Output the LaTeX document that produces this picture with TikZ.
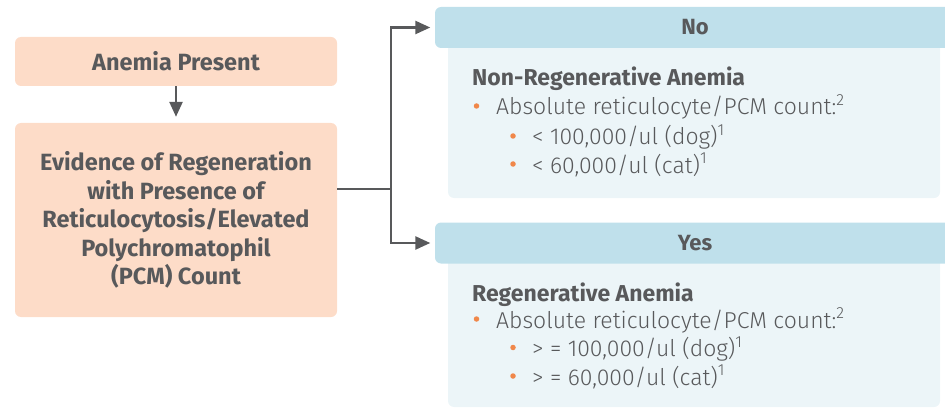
\documentclass[tikz,border=0pt]{standalone}
\usepackage{fontspec}
\setmainfont{Fira Sans}
\newfontfamily\lightfont{Fira Sans Light}
\usetikzlibrary{arrows.meta}
\definecolor{txtgray}{HTML}{58595B}
\definecolor{peach}{HTML}{FDDCC8}
\definecolor{headblue}{HTML}{BFE0EB}
\definecolor{bodyblue}{HTML}{ECF5F8}
\definecolor{dotorange}{HTML}{F0874A}
\begin{document}
\begin{tikzpicture}[x=1pt,y=-1pt,
  peachbox/.style={fill=peach, rounded corners=6pt, minimum width=322pt, align=center, text=txtgray, font=\fontsize{23.5}{28.5}\selectfont\bfseries},
  headbox/.style={fill=headblue, rounded corners=6pt, minimum width=520pt, minimum height=41pt, text=txtgray, font=\fontsize{22}{24}\selectfont\bfseries},
  bodybox/.style={fill=bodyblue, rounded corners=6pt, minimum width=492pt},
  title/.style={anchor=base west, inner sep=0pt, text=txtgray, font=\fontsize{23}{24}\selectfont\bfseries},
  item/.style={anchor=base west, inner sep=0pt, text=txtgray, font=\fontsize{23}{24}\selectfont\lightfont},
  dot/.style={circle, inner sep=0pt, minimum size=5.5pt, fill=dotorange},
  wire/.style={draw=txtgray, line width=2.5pt},
  link/.style={wire, -{Triangle[length=15pt,width=13pt]}}]
\useasboundingbox (0,0) rectangle (945,409);
\node[peachbox, minimum height=49pt] (anemia) at (176,61.5){Anemia Present};
\node[peachbox, minimum height=194pt] (regen) at (176,220){Evidence of Regeneration\\with Presence of\\Reticulocytosis/Elevated\\Polychromatophil\\(PCM) Count};
\draw[link, shorten >=6pt] (anemia) -- (regen);
\node[bodybox, minimum height=158pt] (nobody) at (694,119){};
\node[headbox] (no) at (695,27.5){No};
\node[bodybox, minimum height=152pt] (yesbody) at (694,331){};
\node[headbox] (yes) at (695,243){Yes};
\coordinate (split) at (391,189);
\draw[wire] (split -| regen.east) -- (split);
\draw[link, shorten >=4.5pt] (split) |- (no.west);
\draw[link, shorten >=4.5pt] (split) |- (yes.west);
\node[title] (notitle) at (472,86){Non-Regenerative Anemia};
\node[dot] (nodot1) at (476.5,106){};
\node[item] (noitem1) at (496,115){Absolute reticulocyte/PCM count:\textsuperscript{2}};
\node[dot] (nodot2) at (513,136){};
\node[item] (noitem2) at (532,145){< 100,000/ul (dog)\textsuperscript{1}};
\node[dot] (nodot3) at (513,164){};
\node[item] (noitem3) at (532,173){< 60,000/ul (cat)\textsuperscript{1}};
\node[title] (yestitle) at (472,301){Regenerative Anemia};
\node[dot] (yesdot1) at (476.5,319){};
\node[item] (yesitem1) at (496,328){Absolute reticulocyte/PCM count:\textsuperscript{2}};
\node[dot] (yesdot2) at (513,347.5){};
\node[item] (yesitem2) at (532,356.5){> = 100,000/ul (dog)\textsuperscript{1}};
\node[dot] (yesdot3) at (513,376){};
\node[item] (yesitem3) at (532,385){> = 60,000/ul (cat)\textsuperscript{1}};
\end{tikzpicture}
\end{document}
